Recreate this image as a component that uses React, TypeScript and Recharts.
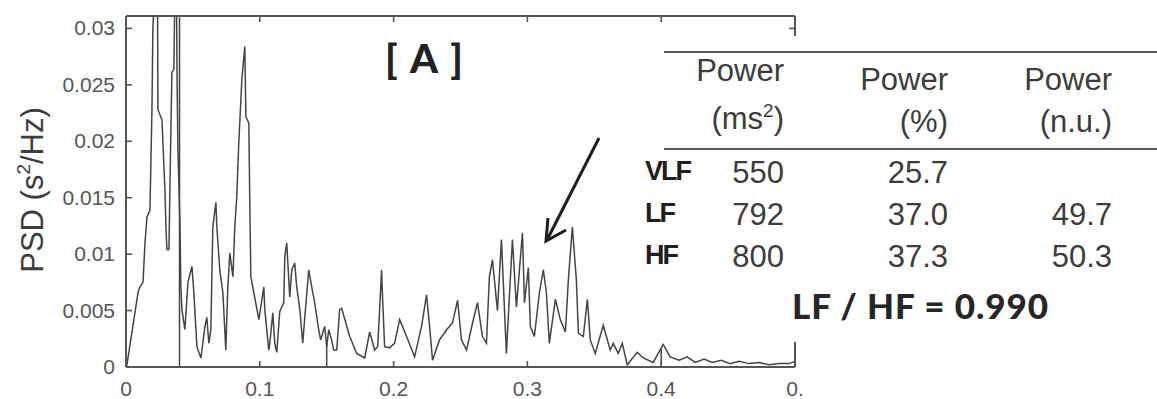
import React from "react";
import { LineChart, Line, XAxis, YAxis, ReferenceLine } from "recharts";

// frequency (Hz) and PSD (s^2/Hz)
const freq = [
  0, 0.0007, 0.009, 0.0104, 0.0127, 0.0142, 0.0157, 0.0179, 0.0194, 0.0201,
  0.0216, 0.0231, 0.0235, 0.0239, 0.0269, 0.0276, 0.0291, 0.0299, 0.0306, 0.0321,
  0.0328, 0.0343, 0.0358, 0.0366, 0.0377, 0.0381, 0.0388, 0.0403, 0.041, 0.0418,
  0.044, 0.0463, 0.0493, 0.0507, 0.053, 0.056, 0.059, 0.0604, 0.0619, 0.0634,
  0.0649, 0.0672, 0.0679, 0.0701, 0.0724, 0.0746, 0.0761, 0.0776, 0.0799, 0.0813,
  0.0828, 0.0843, 0.0866, 0.0888, 0.0896, 0.0918, 0.0925, 0.0933, 0.0955, 0.0993,
  0.103, 0.1037, 0.1067, 0.1075, 0.1097, 0.1112, 0.1127, 0.1149, 0.1179, 0.1187,
  0.1201, 0.1224, 0.1239, 0.1261, 0.1276, 0.1299, 0.1321, 0.1336, 0.1366, 0.1388,
  0.141, 0.144, 0.1455, 0.1485, 0.15, 0.1515, 0.1537, 0.1552, 0.1575, 0.1597,
  0.1612, 0.1672, 0.1724, 0.1784, 0.1821, 0.1858, 0.1881, 0.1903, 0.191, 0.1918,
  0.1933, 0.197, 0.2007, 0.2045, 0.2097, 0.2157, 0.2209, 0.2246, 0.2269, 0.2291,
  0.2343, 0.2396, 0.244, 0.2478, 0.2507, 0.2545, 0.259, 0.2627, 0.2664, 0.2694,
  0.2716, 0.2739, 0.2776, 0.2806, 0.2843, 0.2888, 0.2918, 0.2963, 0.2978, 0.3007,
  0.3022, 0.3052, 0.309, 0.3119, 0.3142, 0.3164, 0.3209, 0.3246, 0.3284, 0.3306,
  0.3336, 0.3366, 0.3381, 0.3418, 0.3448, 0.347, 0.3507, 0.3567, 0.3619, 0.3642,
  0.3679, 0.3709, 0.3746, 0.3821, 0.3866, 0.394, 0.4015, 0.4067, 0.4134, 0.4194,
  0.4254, 0.4321, 0.4381, 0.4448, 0.4515, 0.4582, 0.4657, 0.4731, 0.4806, 0.4881,
  0.4955, 0.5,
];
const psd = [
  0, 0.0002, 0.0066, 0.0071, 0.0075, 0.011, 0.0133, 0.0139, 0.0228, 0.03,
  0.034, 0.0345, 0.034, 0.0228, 0.0219, 0.0199, 0.0157, 0.0122, 0.0104, 0.0104,
  0.0157, 0.0261, 0.0264, 0.034, 0.034, 0.0264, 0.0193, 0.0128, 0.0071, 0.0051,
  0.0033, 0.0075, 0.0089, 0.0066, 0.0018, 0.0008, 0.0036, 0.0044, 0.0021, 0.0033,
  0.0124, 0.0146, 0.0124, 0.0086, 0.0066, 0.0015, 0.0071, 0.0101, 0.008, 0.0124,
  0.0151, 0.0199, 0.0255, 0.0284, 0.0222, 0.0216, 0.0148, 0.008, 0.0066, 0.0042,
  0.0071, 0.0051, 0.0015, 0.0021, 0.0048, 0.0021, 0.0013, 0.0049, 0.0057, 0.0098,
  0.011, 0.0062, 0.0086, 0.0092, 0.0071, 0.0051, 0.0021, 0.0044, 0.0086, 0.0071,
  0.0057, 0.0033, 0.0024, 0.0036, 0.0018, 0.0033, 0.0024, 0.0015, 0.0015, 0.0051,
  0.0052, 0.0027, 0.0012, 0.0008, 0.0031, 0.0015, 0.0018, 0.0068, 0.0086, 0.006,
  0.0018, 0.0017, 0.0021, 0.0042, 0.0027, 0.0009, 0.0036, 0.0064, 0.0036, 0.0006,
  0.0024, 0.0033, 0.0039, 0.0059, 0.0024, 0.0015, 0.0039, 0.0057, 0.0027, 0.0021,
  0.008, 0.0095, 0.005, 0.0113, 0.0012, 0.0113, 0.0053, 0.0119, 0.0057, 0.0088,
  0.0036, 0.0027, 0.0066, 0.0086, 0.0066, 0.0021, 0.006, 0.0042, 0.0031, 0.0077,
  0.0124, 0.0077, 0.003, 0.0027, 0.006, 0.0024, 0.0012, 0.0037, 0.0015, 0.0021,
  0.0012, 0.0021, 0.0002, 0.0013, 0.0008, 0.0004, 0.002, 0.0009, 0.0006, 0.0009,
  0.0004, 0.0007, 0.0004, 0.0006, 0.0003, 0.0005, 0.0003, 0.0004, 0.0002, 0.0003,
  0.0003, 0.0005,
];

const xTicks = [0, 0.1, 0.2, 0.3, 0.4, 0.5];
const xTickLabels = ["0", "0.1", "0.2", "0.3", "0.4", "0."];
const yTicks = [0, 0.005, 0.01, 0.015, 0.02, 0.025, 0.03];
const yTickLabels = ["0", "0.005", "0.01", "0.015", "0.02", "0.025", "0.03"];
const xMax = 0.5;
const yMax = 0.0311;

// band limits (VLF|LF at 0.04, LF|HF at 0.15, HF end at 0.4)
const bandEdges = [0.04, 0.15, 0.4];
const bandEdgeTops = [0.031, 0.0021, 0.0016];

// table
const bandNames = ["VLF", "LF", "HF"];
const powerMs2 = ["550", "792", "800"];
const powerPct = ["25.7", "37.0", "37.3"];
const powerNu = ["", "49.7", "50.3"];
const lfHfRatio = "0.990";

const data = freq.map((f, i) => ({ f, psd: psd[i] }));

const AXIS = "#555";
const TEXT = "#3c3c3c";
const SANS = "'Liberation Sans', Arial, sans-serif";
const HUMAN = "Lato, 'Open Sans', sans-serif";

const rowBase = [180, 222, 264];

// tick label + inward tick marks (bottom and top edge) for the x axis
const BottomTick = (props: any) => {
  const { x, y, payload } = props;
  const i = xTicks.indexOf(payload.value);
  return (
    <g>
      <line x1={x} x2={x} y1={367} y2={361} stroke={AXIS} strokeWidth={1.6} />
      <line x1={x} x2={x} y1={16} y2={22} stroke={AXIS} strokeWidth={1.6} />
      <text x={x} y={y} dy={15} textAnchor="middle" fontSize={21} fontFamily={SANS} fill="#555">
        {i >= 0 ? xTickLabels[i] : ""}
      </text>
    </g>
  );
};

// tick label + inward tick mark for the left axis
const LeftTick = (props: any) => {
  const { x, y, payload } = props;
  const i = yTicks.indexOf(payload.value);
  return (
    <g>
      <line x1={126} x2={132} y1={y} y2={y} stroke={AXIS} strokeWidth={1.6} />
      <text x={x} y={y} dy={7} textAnchor="end" fontSize={21} fontFamily={SANS} fill="#555">
        {i >= 0 ? yTickLabels[i] : ""}
      </text>
    </g>
  );
};

export default function App() {
  return (
    <div style={{ position: "absolute", left: 0, top: 0, width: 1157, height: 399, background: "#fff" }}>
      <LineChart width={1157} height={399} data={data} margin={{ top: 16, right: 362, bottom: 0, left: 0 }}>
        <XAxis
          dataKey="f"
          type="number"
          domain={[0, xMax]}
          ticks={xTicks}
          height={32}
          tickSize={0}
          tickMargin={14}
          interval={0}
          axisLine={{ stroke: AXIS, strokeWidth: 2 }}
          tickLine={false}
          tick={<BottomTick />}
        />
        <YAxis
          type="number"
          domain={[0, yMax]}
          allowDataOverflow
          ticks={yTicks}
          width={126}
          tickSize={0}
          tickMargin={11}
          interval={0}
          axisLine={{ stroke: AXIS, strokeWidth: 2 }}
          tickLine={false}
          tick={<LeftTick />}
        />
        {/* box: top and right edges */}
        <ReferenceLine y={yMax} stroke={AXIS} strokeWidth={2} />
        <ReferenceLine x={xMax} stroke={AXIS} strokeWidth={2} />
        <ReferenceLine segment={[{ x: xMax, y: yTicks[6] }, { x: 0.4955, y: yTicks[6] }]} stroke={AXIS} strokeWidth={1.6} />
        {bandEdges.map((e, i) => (
          <ReferenceLine
            key={e}
            segment={[{ x: e, y: 0 }, { x: e, y: bandEdgeTops[i] }]}
            stroke="#444"
            strokeWidth={1.5}
            ifOverflow="hidden"
          />
        ))}
        <Line
          type="linear"
          dataKey="psd"
          stroke="#444"
          strokeWidth={1.5}
          dot={false}
          isAnimationActive={false}
        />
      </LineChart>

      <svg width={1157} height={399} style={{ position: "absolute", left: 0, top: 0, pointerEvents: "none" }}>
        {/* y label */}
        <text
          transform="translate(43,190) rotate(-90)"
          textAnchor="middle"
          fontFamily={SANS}
          fontSize={31}
          fill={TEXT}
        >
          PSD (s<tspan fontSize={19} dy={-13}>2</tspan><tspan dy={13}>/Hz)</tspan>
        </text>

        {/* panel tag */}
        <text x={385} y={73} textLength={78} lengthAdjust="spacing" fontFamily={HUMAN} fontWeight={900} fontSize={40} fill="#222">
          [ A ]
        </text>

        {/* arrow */}
        <line x1={599} y1={138} x2={547} y2={240} stroke="#1e1e1e" strokeWidth={3} />
        <polyline points="548,218 546,241 566,230" fill="none" stroke="#1e1e1e" strokeWidth={3} />

        {/* table */}
        <rect x={636} y={36} width={521} height={306} fill="#fff" />
        <line x1={664} x2={1157} y1={52} y2={52} stroke="#5a5a5a" strokeWidth={2} />
        <line x1={664} x2={1157} y1={149} y2={149} stroke="#5a5a5a" strokeWidth={2} />

        <g fontFamily={SANS} fontSize={31} fill={TEXT} textAnchor="end">
          <text x={784} y={81}>Power</text>
          <text x={784} y={129}>
            (ms<tspan fontSize={19} dy={-12}>2</tspan><tspan dy={12}>)</tspan>
          </text>
          <text x={948} y={90}>Power</text>
          <text x={948} y={132}>(%)</text>
          <text x={1112} y={90}>Power</text>
          <text x={1112} y={132}>(n.u.)</text>

          {bandNames.map((b, i) => (
            <g key={b}>
              <text x={784} y={rowBase[i] + 3}>{powerMs2[i]}</text>
              <text x={948} y={rowBase[i] + 3}>{powerPct[i]}</text>
              <text x={1112} y={rowBase[i] + 3}>{powerNu[i]}</text>
            </g>
          ))}
        </g>
        <g fontFamily={SANS} fontSize={27} fontWeight={700} fill="#1e1e1e">
          {bandNames.map((b, i) => (
            <text key={b} x={645} y={rowBase[i]} letterSpacing={-2}>{b}</text>
          ))}
        </g>

        <text x={792} y={319} textLength={256} lengthAdjust="spacing" fontFamily={HUMAN} fontWeight={900} fontSize={35} fill="#262626">
          {`LF / HF =  ${lfHfRatio}`}
        </text>
      </svg>
    </div>
  );
}
